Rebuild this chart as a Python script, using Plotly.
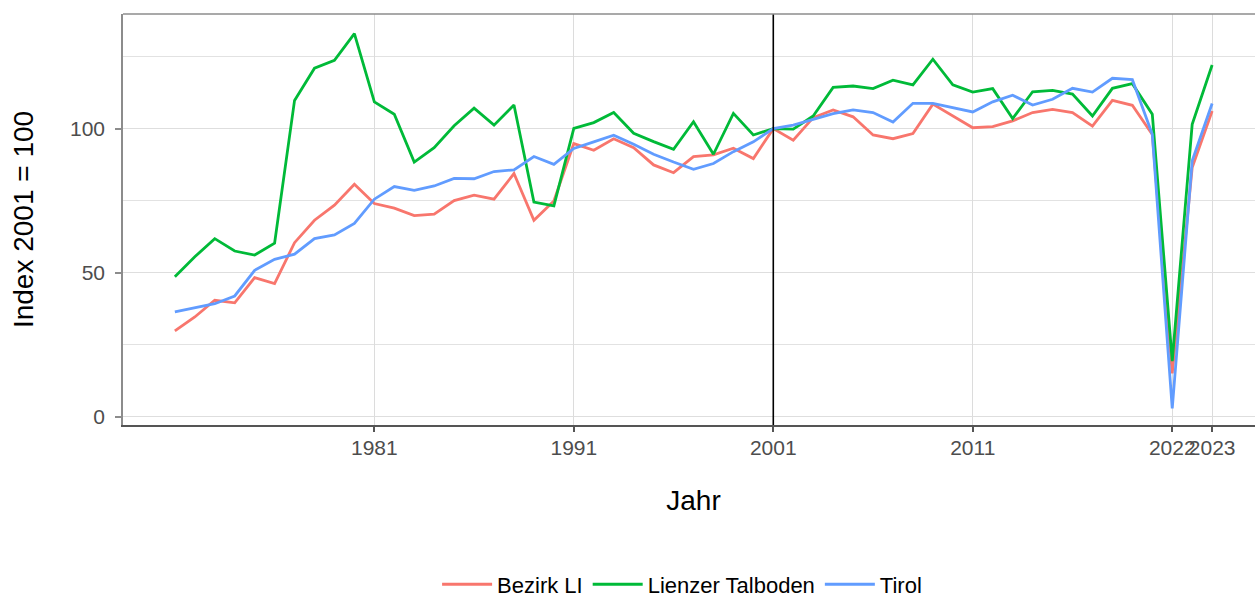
import plotly.graph_objects as go

years = list(range(1971, 2024))

bezirk_li = [29.8, 34.6, 40.4, 39.5, 48.3, 46.2, 60.4, 68.2, 73.4, 80.7,
             74.0, 72.4, 69.8, 70.3, 75.0, 76.9, 75.5, 84.4, 68.2, 74.9,
             94.8, 92.5, 96.5, 93.4, 87.4, 84.7, 90.3, 90.9, 93.2, 89.6,
             100.0, 96.0, 103.8, 106.5, 104.1, 97.8, 96.5, 98.3, 108.5, 104.4,
             100.3, 100.7, 102.7, 105.6, 106.7, 105.6, 100.9, 109.8, 108.1, 98.0,
             15.0, 86.5, 106.1]

lienzer_talboden = [48.6, 55.5, 61.8, 57.5, 56.1, 60.2, 109.8, 121.0, 123.7, 133.0,
                    109.3, 105.0, 88.4, 93.4, 101.0, 107.1, 101.2, 108.2, 74.5, 73.2,
                    100.1, 102.1, 105.6, 98.4, 95.5, 92.8, 102.4, 91.1, 105.3, 97.8,
                    100.0, 99.8, 104.4, 114.3, 114.8, 113.9, 116.8, 115.2, 124.1, 115.2,
                    112.7, 113.9, 103.5, 112.8, 113.3, 112.0, 104.4, 114.0, 115.6, 105.0,
                    19.3, 101.5, 122.1]

tirol = [36.4, 37.9, 39.2, 41.9, 50.8, 54.6, 56.4, 61.8, 63.1, 67.1,
         75.5, 79.9, 78.6, 80.1, 82.7, 82.6, 85.1, 85.7, 90.3, 87.6,
         93.1, 95.4, 97.7, 94.6, 91.1, 88.4, 85.9, 87.9, 92.0, 95.4,
         100.0, 101.2, 103.3, 105.2, 106.5, 105.6, 102.3, 108.8, 108.8, 107.3,
         105.8, 109.3, 111.6, 108.2, 110.2, 114.0, 112.7, 117.5, 117.0, 98.0,
         2.9, 88.8, 108.7]

series_names = ["Bezirk LI", "Lienzer Talboden", "Tirol"]
series_colors = ["#F8766D", "#00BA38", "#619CFF"]

x_tick_vals = [1981, 1991, 2001, 2011, 2021, 2023]
x_tick_text = ["1981", "1991", "2001", "2011", "2022", "2023"]
y_tick_vals = [0, 50, 100]
y_minor_vals = [25, 75, 125]
ref_year = 2001

FONT = "Liberation Sans, Arial, sans-serif"

fig = go.Figure()
for name, vals, col in zip(series_names, [bezirk_li, lienzer_talboden, tirol], series_colors):
    fig.add_trace(go.Scatter(x=years, y=vals, mode="lines", name=name,
                             line=dict(color=col, width=2.8)))

fig.add_vline(x=ref_year, line=dict(color="black", width=1.6), layer="above")
# top panel border
fig.add_shape(type="line", xref="paper", yref="paper", x0=0, x1=1, y0=1, y1=1,
              line=dict(color="#8c8c8c", width=1.5))

fig.update_layout(
    width=1264, height=597,
    margin=dict(l=123, r=0, t=14, b=172, autoexpand=False),
    paper_bgcolor="white", plot_bgcolor="white",
    font=dict(family=FONT, color="black"),
    showlegend=True,
    legend=dict(orientation="h", x=0.49, xanchor="center", y=-0.388, yanchor="middle",
                font=dict(size=22, color="black"), itemwidth=50,
                traceorder="normal"),
    xaxis=dict(range=[1968.4, 2025.6], tickvals=x_tick_vals, ticktext=x_tick_text,
               tickangle=0,
               showgrid=True, gridcolor="#dcdcdc", gridwidth=1.2, zeroline=False,
               showline=True, linecolor="#555555", linewidth=2,
               ticks="outside", ticklen=5, tickcolor="#555555", tickwidth=1.5,
               tickfont=dict(size=21, color="#4d4d4d"), ticklabelstandoff=-2,
               title=dict(text="Jahr", font=dict(size=28, color="black"), standoff=32),
               automargin=False),
    yaxis=dict(range=[-2.9, 139.8], tickvals=y_tick_vals,
               showgrid=True, gridcolor="#dedede", gridwidth=1.4, zeroline=False,
               minor=dict(tickvals=y_minor_vals, showgrid=True, gridcolor="#e2e2e2", gridwidth=0.9),
               showline=True, linecolor="#8c8c8c", linewidth=1.5,
               ticks="outside", ticklen=6, tickcolor="#8c8c8c", tickwidth=1.5,
               tickfont=dict(size=21, color="#4d4d4d"), ticklabelstandoff=6,
               title=dict(text="Index 2001 = 100", font=dict(size=28, color="black"), standoff=28),
               automargin=False),
)

fig.write_html("out.html", config={"displayModeBar": False},
               post_script="document.body.style.margin='0';document.body.style.overflow='hidden';")
